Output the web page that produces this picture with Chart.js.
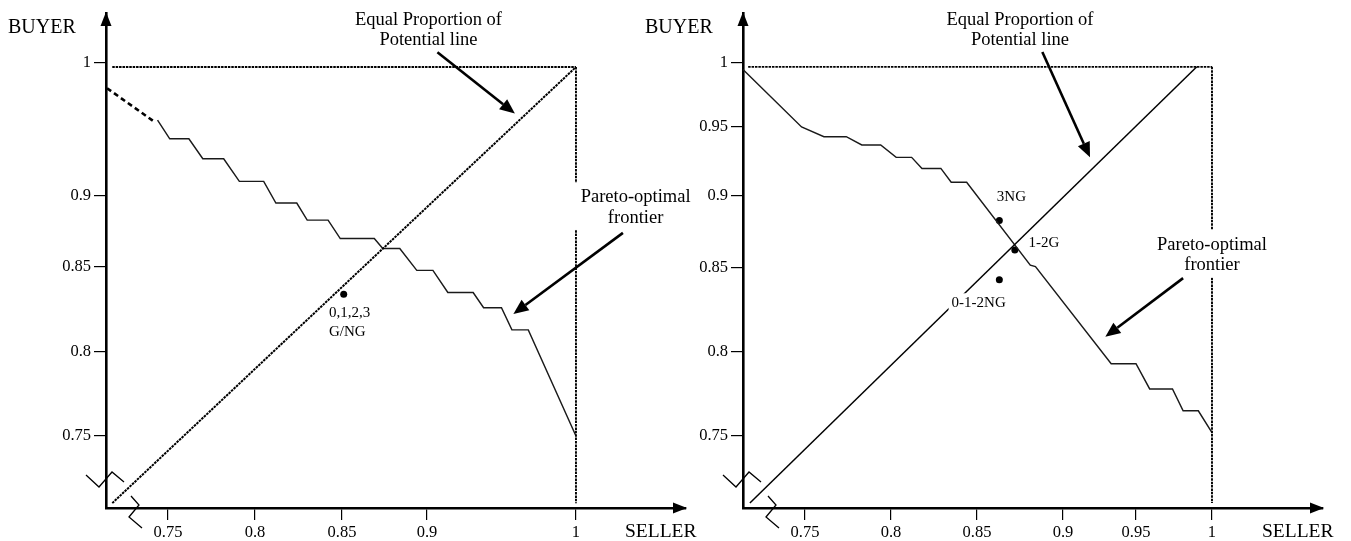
<!DOCTYPE html>
<html><head><meta charset="utf-8">
<script src="https://cdn.jsdelivr.net/npm/chart.js@4.4.1/dist/chart.umd.min.js"></script>
<style>
html,body{margin:0;padding:0;background:#fff;}
#wrap{position:relative;width:1351px;height:541px;overflow:hidden;background:#fff;}
canvas{position:absolute;top:0;}
#c1{left:0px}
#c2{left:637px}
</style></head><body>
<div id="wrap"><canvas id="c1" width="714" height="541"></canvas><canvas id="c2" width="714" height="541"></canvas></div>
<script>
// ---------- tick labels ----------
const leftTicksX = [0.75, 0.8, 0.85, 0.9, 1];
const leftTicksY = [0.75, 0.8, 0.85, 0.9, 1];
const rightTicksX = [0.75, 0.8, 0.85, 0.9, 0.95, 1];
const rightTicksY = [0.75, 0.8, 0.85, 0.9, 0.95, 1];

// ---------- left panel data ----------
const leftFrontierDashX = [0.715, 0.742];
const leftFrontierDashY = [0.981, 0.956];
const leftFrontierX = [0.744, 0.751, 0.762, 0.770, 0.782, 0.791, 0.805, 0.812, 0.824, 0.830, 0.842, 0.849, 0.869, 0.874, 0.884, 0.894, 0.904, 0.914, 0.931, 0.938, 0.950, 0.957, 0.968, 1.0];
const leftFrontierY = [0.957, 0.943, 0.943, 0.928, 0.928, 0.911, 0.911, 0.895, 0.895, 0.883, 0.883, 0.870, 0.870, 0.863, 0.863, 0.848, 0.848, 0.835, 0.835, 0.826, 0.826, 0.813, 0.813, 0.750];
const leftEqualX = [0.718, 1.0];
const leftEqualY = [0.710, 0.997];
const leftTopX = [0.718, 1.0];
const leftTopY = [0.997, 0.997];
const leftSideX = [1.0, 1.0];
const leftSideY = [0.997, 0.710];
const leftPointsX = [0.851];
const leftPointsY = [0.834];

// ---------- right panel data ----------
const rightFrontierX = [0.714, 0.748, 0.761, 0.774, 0.783, 0.794, 0.803, 0.812, 0.818, 0.829, 0.835, 0.844, 0.881, 0.884, 0.933, 0.950, 0.959, 0.974, 0.981, 0.991, 1.0];
const rightFrontierY = [0.995, 0.950, 0.943, 0.943, 0.937, 0.937, 0.928, 0.928, 0.920, 0.920, 0.910, 0.910, 0.852, 0.851, 0.793, 0.793, 0.778, 0.778, 0.765, 0.765, 0.752];
const rightEqualX = [0.718, 0.990];
const rightEqualY = [0.710, 0.997];
const rightTopX = [0.717, 1.0];
const rightTopY = [0.997, 0.997];
const rightSideX = [1.0, 1.0];
const rightSideY = [0.997, 0.710];
const rightPointsX = [0.863, 0.872, 0.863];
const rightPointsY = [0.883, 0.8625, 0.843];

// ---------- axis calibration (value -> fraction of axis length) ----------
const leftStopsX = [[0.7144,0],[0.75,0.1069],[0.8,0.2569],[0.85,0.4069],[0.9,0.5534],[1,0.8103],[1.0738,1]];
const leftStopsY = [[0.7071,0],[0.75,0.1455],[0.8,0.3152],[0.85,0.4869],[0.9,0.6303],[1,0.899],[1.0375,1]];
const rightStopsX = [[0.714,0],[0.75,0.1069],[0.8,0.2552],[0.85,0.4034],[0.9,0.5517],[0.95,0.6776],[1,0.8086],[1.073,1]];
const rightStopsY = [[0.707,0],[0.75,0.1455],[0.8,0.3152],[0.85,0.4848],[0.9,0.6303],[0.95,0.7697],[1,0.899],[1.039,1]];

const SERIF = '"Liberation Serif", "Times New Roman", serif';

// piecewise-linear scale built on Chart.js LinearScale
class PiecewiseScale extends Chart.LinearScale {
  static id = 'piecewise';
  static defaults = {};
  _frac(value) {
    const s = this.options.stops;
    let i = 0;
    while (i < s.length - 2 && value > s[i + 1][0]) i++;
    const a = s[i], b = s[i + 1];
    return a[1] + (value - a[0]) * (b[1] - a[1]) / (b[0] - a[0]);
  }
  getPixelForValue(value) {
    return this.getPixelForDecimal(this._frac(value));
  }
  getValueForPixel(pixel) {
    const d = this.getDecimalForPixel(pixel);
    const s = this.options.stops;
    let i = 0;
    while (i < s.length - 2 && d > s[i + 1][1]) i++;
    const a = s[i], b = s[i + 1];
    return a[0] + (d - a[1]) * (b[0] - a[0]) / (b[1] - a[1]);
  }
}
Chart.register(PiecewiseScale);

const pts = (xs, ys) => xs.map((x, i) => ({x: x, y: ys[i]}));
function lineDs(data, opts) {
  return Object.assign({data: data, showLine: true, pointRadius: 0, borderColor: '#1a1a1a',
    borderWidth: 1.45, fill: false, tension: 0, clip: false}, opts);
}
const DOTTED = [2.5, 0.9];

function arrow(ctx, x1, y1, x2, y2) {
  const head = 15, hw = 6.5;
  const ang = Math.atan2(y2 - y1, x2 - x1);
  const bx = x2 - head * Math.cos(ang), by = y2 - head * Math.sin(ang);
  ctx.lineWidth = 2.6; ctx.strokeStyle = '#000'; ctx.fillStyle = '#000';
  ctx.beginPath(); ctx.moveTo(x1, y1); ctx.lineTo(bx, by); ctx.stroke();
  ctx.beginPath(); ctx.moveTo(x2, y2);
  ctx.lineTo(bx + hw * Math.sin(ang), by - hw * Math.cos(ang));
  ctx.lineTo(bx - hw * Math.sin(ang), by + hw * Math.cos(ang));
  ctx.closePath(); ctx.fill();
}

function textBlock(ctx, t, px, py) {
  ctx.font = t.size + 'px ' + SERIF;
  ctx.textAlign = t.align; ctx.textBaseline = 'middle';
  const lh = t.lh || t.size * 1.2;
  if (t.box) {
    const w = Math.max.apply(null, t.lines.map(l => ctx.measureText(l).width));
    const left = t.align === 'center' ? px - w / 2 : (t.align === 'left' ? px : px - w);
    ctx.fillStyle = '#fff';
    ctx.fillRect(left - t.box[0], py - t.box[1], w + 2 * t.box[0], (t.lines.length - 1) * lh + t.box[1] + t.box[2]);
  }
  ctx.fillStyle = '#000';
  t.lines.forEach((l, i) => ctx.fillText(l, px, py + i * lh));
}

function decor(cfg) {
  return {
    id: 'decor',
    afterDatasetsDraw(chart) {
      const ctx = chart.ctx, ca = chart.chartArea;
      const xs = chart.scales.x, ys = chart.scales.y;
      const X = v => xs.getPixelForValue(v), Y = v => ys.getPixelForValue(v);
      ctx.save();
      // axis arrowheads
      ctx.fillStyle = '#000';
      ctx.beginPath(); ctx.moveTo(ca.left, ca.top - 1); ctx.lineTo(ca.left - 5.5, ca.top + 13); ctx.lineTo(ca.left + 5.5, ca.top + 13); ctx.closePath(); ctx.fill();
      ctx.beginPath(); ctx.moveTo(ca.right + 1, ca.bottom); ctx.lineTo(ca.right - 13, ca.bottom - 5.5); ctx.lineTo(ca.right - 13, ca.bottom + 5.5); ctx.closePath(); ctx.fill();
      // axis break marks
      ctx.strokeStyle = '#000'; ctx.lineWidth = 1.3;
      const ox = ca.left, oy = ca.bottom;
      ctx.beginPath(); ctx.moveTo(ox - 20, oy - 33); ctx.lineTo(ox - 7, oy - 21); ctx.lineTo(ox + 6, oy - 36); ctx.lineTo(ox + 18, oy - 26); ctx.stroke();
      ctx.beginPath(); ctx.moveTo(ox + 25, oy - 12); ctx.lineTo(ox + 33, oy - 3); ctx.lineTo(ox + 23, oy + 9); ctx.lineTo(ox + 36, oy + 20); ctx.stroke();
      // axis names
      ctx.fillStyle = '#000'; ctx.textBaseline = 'middle'; ctx.textAlign = 'left';
      ctx.font = '20px ' + SERIF; ctx.fillText('BUYER', ca.left - 98, ca.top + 15);
      ctx.font = '19.5px ' + SERIF; ctx.fillText('SELLER', ca.right - 61, ca.bottom + 24);
      // annotations
      cfg.texts.forEach(t => textBlock(ctx, t, X(t.x), Y(t.y)));
      cfg.arrows.forEach(a => arrow(ctx, X(a[0]), Y(a[1]), X(a[2]), Y(a[3])));
      ctx.restore();
    }
  };
}

function axis(stops, ticks, isX) {
  return {
    type: 'piecewise', stops: stops, min: stops[0][0], max: stops[stops.length - 1][0],
    afterBuildTicks: s => { s.ticks = ticks.map(v => ({value: v})); },
    afterFit: s => { if (isX) s.height = 33; else s.width = 106; },
    grid: {drawOnChartArea: false, drawTicks: true, tickLength: 12, color: '#000', lineWidth: 1.2},
    border: {display: true, color: '#000', width: 2.6},
    ticks: {autoSkip: false, maxRotation: 0, minRotation: 0, padding: 3, color: '#000',
      font: {family: SERIF, size: 16.5}, callback: v => String(v)}
  };
}

function makeChart(id, cfg) {
  return new Chart(document.getElementById(id), {
    type: 'scatter',
    data: {datasets: cfg.datasets},
    options: {
      responsive: false, animation: false, events: [], devicePixelRatio: 1,
      layout: {padding: {left: 0, right: 28, top: 13, bottom: 0}},
      plugins: {legend: {display: false}, tooltip: {enabled: false}},
      scales: {x: axis(cfg.stopsX, cfg.ticksX, true), y: axis(cfg.stopsY, cfg.ticksY, false)}
    },
    plugins: [decor(cfg)]
  });
}

makeChart('c1', {
  stopsX: leftStopsX, stopsY: leftStopsY, ticksX: leftTicksX, ticksY: leftTicksY,
  datasets: [
    lineDs(pts(leftTopX, leftTopY), {borderDash: DOTTED, borderWidth: 1.9, borderColor: '#000'}),
    lineDs(pts(leftSideX, leftSideY), {borderDash: DOTTED, borderWidth: 1.9, borderColor: '#000'}),
    lineDs(pts(leftEqualX, leftEqualY), {borderDash: DOTTED, borderWidth: 2.0, borderColor: '#000'}),
    lineDs(pts(leftFrontierDashX, leftFrontierDashY), {borderDash: [5, 3.5], borderWidth: 2.6, borderColor: '#000'}),
    lineDs(pts(leftFrontierX, leftFrontierY), {}),
    {data: pts(leftPointsX, leftPointsY), showLine: false, pointRadius: 3.5, pointBackgroundColor: '#000', pointBorderWidth: 0, borderColor: '#000'}
  ],
  texts: [
    {lines: ['Equal Proportion of', 'Potential line'], x: 0.901, y: 1.032, align: 'center', size: 18.5, lh: 20},
    {lines: ['Pareto-optimal', 'frontier'], x: 1.040, y: 0.899, align: 'center', size: 18.5, lh: 20.5, box: [8, 15, 12]},
    {lines: ['0,1,2,3', 'G/NG'], x: 0.8425, y: 0.823, align: 'left', size: 15, lh: 19}
  ],
  arrows: [[0.907, 1.008, 0.959, 0.962], [1.0315, 0.874, 0.958, 0.8224]]
});

makeChart('c2', {
  stopsX: rightStopsX, stopsY: rightStopsY, ticksX: rightTicksX, ticksY: rightTicksY,
  datasets: [
    lineDs(pts(rightTopX, rightTopY), {borderDash: DOTTED, borderWidth: 1.9, borderColor: '#000'}),
    lineDs(pts(rightSideX, rightSideY), {borderDash: DOTTED, borderWidth: 1.9, borderColor: '#000'}),
    lineDs(pts(rightEqualX, rightEqualY), {borderWidth: 1.5, borderColor: '#000'}),
    lineDs(pts(rightFrontierX, rightFrontierY), {}),
    {data: pts(rightPointsX, rightPointsY), showLine: false, pointRadius: 3.5, pointBackgroundColor: '#000', pointBorderWidth: 0, borderColor: '#000'}
  ],
  texts: [
    {lines: ['Equal Proportion of', 'Potential line'], x: 0.875, y: 1.0336, align: 'center', size: 18.5, lh: 20},
    {lines: ['Pareto-optimal', 'frontier'], x: 1.0, y: 0.866, align: 'center', size: 18.5, lh: 20.5, box: [8, 15, 12]},
    {lines: ['3NG'], x: 0.870, y: 0.899, align: 'center', size: 15},
    {lines: ['1-2G'], x: 0.880, y: 0.867, align: 'left', size: 15},
    {lines: ['0-1-2NG'], x: 0.851, y: 0.829, align: 'center', size: 15, box: [3, 10, 10]}
  ],
  arrows: [[0.888, 1.0086, 0.9185, 0.928], [0.981, 0.844, 0.929, 0.809]]
});
</script>
</body></html>
